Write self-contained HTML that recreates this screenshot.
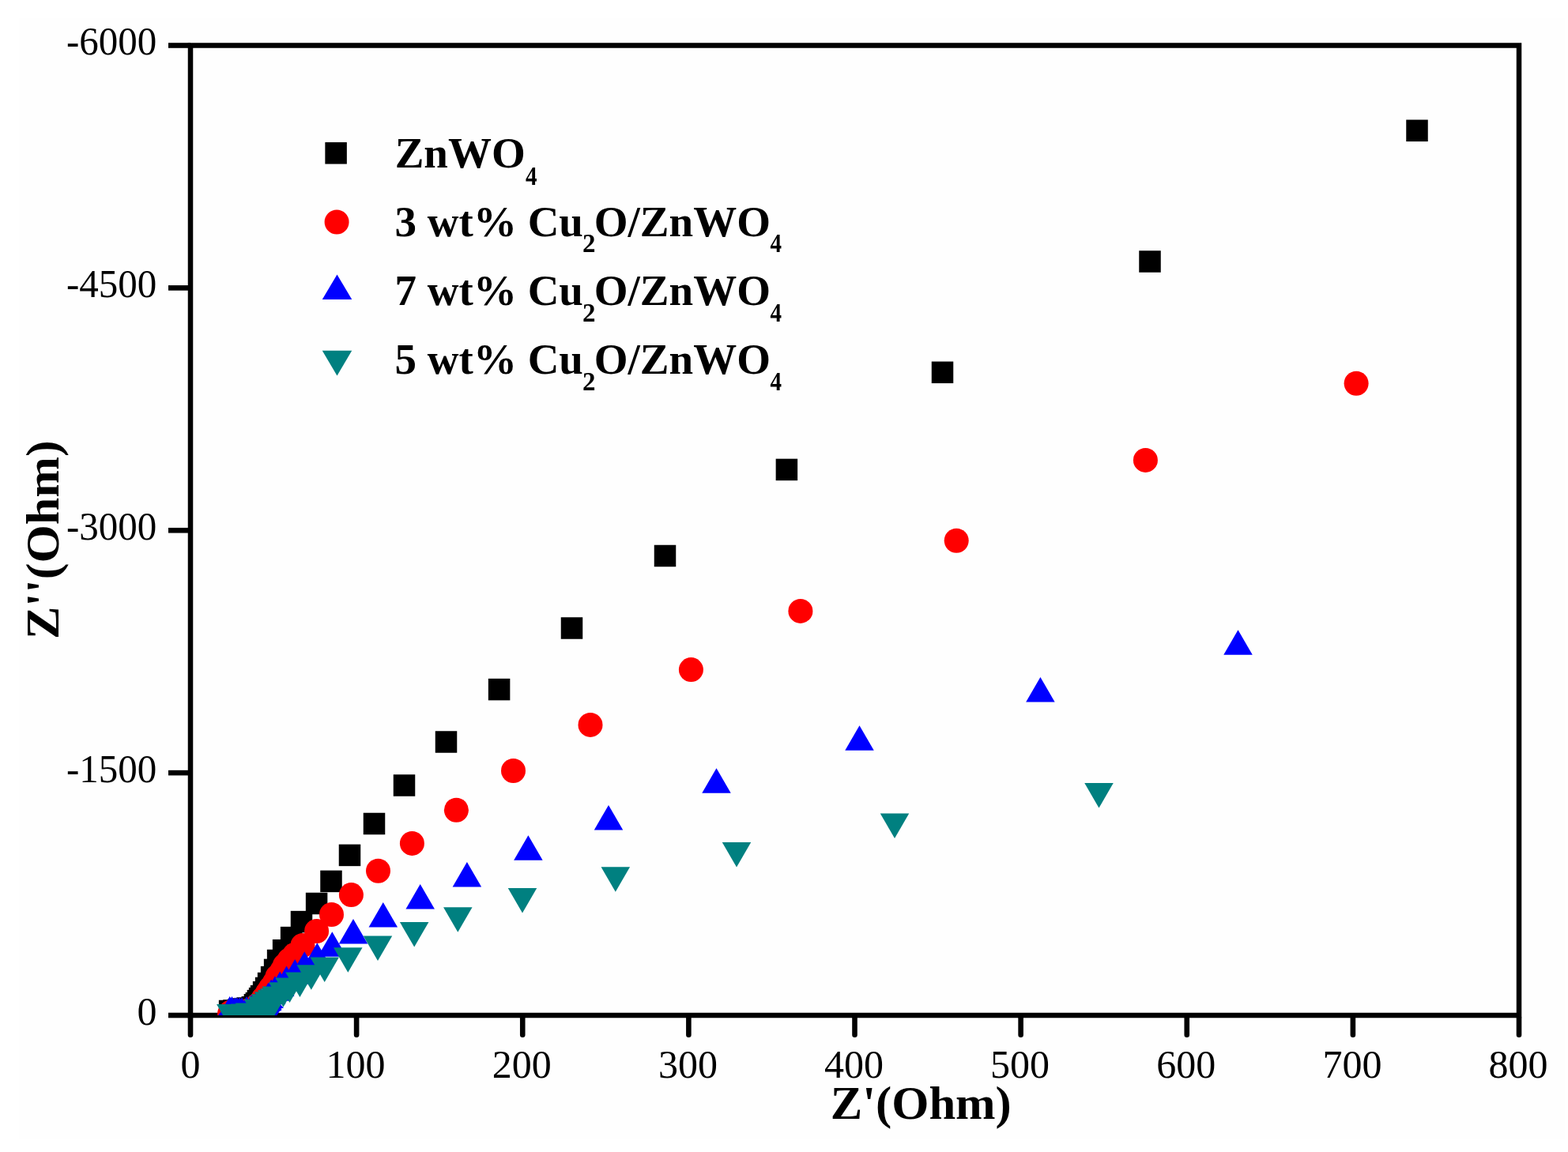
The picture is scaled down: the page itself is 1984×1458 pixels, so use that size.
<!DOCTYPE html>
<html><head><meta charset="utf-8"><title>Nyquist plot</title>
<style>
html,body{margin:0;padding:0;background:#fff;}
svg{display:block;}
text{font-family:"Liberation Serif","Times New Roman",serif;fill:#000;}
.b{font-weight:bold;}
</style></head><body>
<svg width="1984" height="1458" viewBox="0 0 1984 1458">
<rect x="0" y="0" width="1984" height="1458" fill="#ffffff"/>
<rect x="24" y="23" width="1956" height="1419" fill="#fefefe"/>
<defs><clipPath id="pa"><rect x="241" y="57.5" width="1681" height="1227.5"/></clipPath></defs>
<g stroke="#000" stroke-width="6.6" fill="none"><rect x="241" y="57.5" width="1681" height="1227.5" fill="none" stroke="#000" stroke-width="6.5"/><line x1="241" y1="1288.3" x2="241" y2="1309.7" stroke-linecap="round"/><line x1="451.12" y1="1288.3" x2="451.12" y2="1309.7" stroke-linecap="round"/><line x1="661.25" y1="1288.3" x2="661.25" y2="1309.7" stroke-linecap="round"/><line x1="871.38" y1="1288.3" x2="871.38" y2="1309.7" stroke-linecap="round"/><line x1="1081.5" y1="1288.3" x2="1081.5" y2="1309.7" stroke-linecap="round"/><line x1="1291.62" y1="1288.3" x2="1291.62" y2="1309.7" stroke-linecap="round"/><line x1="1501.75" y1="1288.3" x2="1501.75" y2="1309.7" stroke-linecap="round"/><line x1="1711.88" y1="1288.3" x2="1711.88" y2="1309.7" stroke-linecap="round"/><line x1="1922" y1="1288.3" x2="1922" y2="1309.7" stroke-linecap="round"/><line x1="213" y1="1285" x2="241" y2="1285"/><line x1="213" y1="978.12" x2="241" y2="978.12"/><line x1="213" y1="671.25" x2="241" y2="671.25"/><line x1="213" y1="364.38" x2="241" y2="364.38"/><line x1="213" y1="57.5" x2="241" y2="57.5"/></g>
<g clip-path="url(#pa)">
<g fill="#000000"><rect x="1779.25" y="151.55" width="27.5" height="27.5"/><rect x="1441.25" y="317.25" width="27.5" height="27.5"/><rect x="1178.75" y="457.55" width="27.5" height="27.5"/><rect x="981.65" y="580.65" width="27.5" height="27.5"/><rect x="827.75" y="689.75" width="27.5" height="27.5"/><rect x="709.75" y="781.25" width="27.5" height="27.5"/><rect x="617.85" y="858.85" width="27.5" height="27.5"/><rect x="550.75" y="925.25" width="27.5" height="27.5"/><rect x="497.75" y="980.25" width="27.5" height="27.5"/><rect x="459.75" y="1028.75" width="27.5" height="27.5"/><rect x="428.75" y="1068.65" width="27.5" height="27.5"/><rect x="405.25" y="1101.65" width="27.5" height="27.5"/><rect x="386.85" y="1129.75" width="27.5" height="27.5"/><rect x="367.75" y="1152.85" width="27.5" height="27.5"/><rect x="354.85" y="1172.85" width="27.5" height="27.5"/><rect x="344.85" y="1188.95" width="27.5" height="27.5"/><rect x="337.85" y="1201.75" width="27.5" height="27.5"/><rect x="333.85" y="1213.65" width="27.5" height="27.5"/><rect x="329.85" y="1222.85" width="27.5" height="27.5"/><rect x="325.85" y="1230.75" width="27.5" height="27.5"/><rect x="322.85" y="1236.75" width="27.5" height="27.5"/><rect x="319.85" y="1241.95" width="27.5" height="27.5"/><rect x="316.85" y="1246.85" width="27.5" height="27.5"/><rect x="314.85" y="1249.85" width="27.5" height="27.5"/><rect x="312.65" y="1252.85" width="27.5" height="27.5"/><rect x="310.65" y="1255.95" width="27.5" height="27.5"/><rect x="308.65" y="1257.95" width="27.5" height="27.5"/><rect x="305.55" y="1260.95" width="27.5" height="27.5"/><rect x="299.25" y="1262.25" width="27.5" height="27.5"/><rect x="294.25" y="1263.25" width="27.5" height="27.5"/><rect x="288.25" y="1264.25" width="27.5" height="27.5"/><rect x="282.25" y="1265.25" width="27.5" height="27.5"/><rect x="276.85" y="1265.75" width="27.5" height="27.5"/></g>
<g fill="#ff0000"><circle cx="1716.1" cy="485.2" r="15.5"/><circle cx="1449.4" cy="582.4" r="15.5"/><circle cx="1210.2" cy="684.2" r="15.5"/><circle cx="1012.9" cy="773.4" r="15.5"/><circle cx="874.4" cy="847.6" r="15.5"/><circle cx="747" cy="917.4" r="15.5"/><circle cx="649.5" cy="975.5" r="15.5"/><circle cx="577.4" cy="1025.3" r="15.5"/><circle cx="521.4" cy="1067.4" r="15.5"/><circle cx="478.5" cy="1102.3" r="15.5"/><circle cx="444.4" cy="1132.6" r="15.5"/><circle cx="419.5" cy="1157.5" r="15.5"/><circle cx="400.6" cy="1178.5" r="15.5"/><circle cx="383" cy="1196.5" r="15.5"/><circle cx="372.9" cy="1208.3" r="15.5"/><circle cx="366" cy="1215" r="15.5"/><circle cx="360.4" cy="1221.7" r="15.5"/><circle cx="357" cy="1228.5" r="15.5"/><circle cx="351" cy="1236" r="15.5"/><circle cx="347.5" cy="1243.5" r="15.5"/><circle cx="342.5" cy="1250.5" r="15.5"/><circle cx="338.5" cy="1256.5" r="15.5"/><circle cx="333" cy="1264" r="15.5"/><circle cx="326" cy="1272" r="15.5"/><circle cx="318" cy="1277.5" r="15.5"/><circle cx="310" cy="1280" r="15.5"/><circle cx="302" cy="1281" r="15.5"/><circle cx="296" cy="1281.5" r="15.5"/><circle cx="292" cy="1281" r="15.5"/><circle cx="290.6" cy="1283" r="15.5"/></g>
<g fill="#0000ff"><path d="M1566.5 797.2L1584.75 828.7H1548.25Z"/><path d="M1316.4 857.1L1334.65 888.6H1298.15Z"/><path d="M1087.5 918.2L1105.75 949.7H1069.25Z"/><path d="M906.5 972.2L924.75 1003.7H888.25Z"/><path d="M770 1018.9L788.25 1050.4H751.75Z"/><path d="M668.4 1057.3L686.65 1088.8H650.15Z"/><path d="M590.9 1091.1L609.15 1122.6H572.65Z"/><path d="M531.7 1119.1L549.95 1150.6H513.45Z"/><path d="M484.8 1142.1L503.05 1173.6H466.55Z"/><path d="M447 1163.1L465.25 1194.6H428.75Z"/><path d="M420.3 1179.2L438.55 1210.7H402.05Z"/><path d="M401.3 1193.2L419.55 1224.7H383.05Z"/><path d="M385.3 1204.2L403.55 1235.7H367.05Z"/><path d="M373.2 1214L391.45 1245.5H354.95Z"/><path d="M362.5 1222.4L380.75 1253.9H344.25Z"/><path d="M354.2 1229.5L372.45 1261H335.95Z"/><path d="M348 1235.3L366.25 1266.8H329.75Z"/><path d="M343.2 1239.4L361.45 1270.9H324.95Z"/><path d="M339.4 1243.8L357.65 1275.3H321.15Z"/><path d="M335 1248L353.25 1279.5H316.75Z"/><path d="M330 1252L348.25 1283.5H311.75Z"/><path d="M324 1256L342.25 1287.5H305.75Z"/><path d="M318 1259L336.25 1290.5H299.75Z"/><path d="M312 1261L330.25 1292.5H293.75Z"/><path d="M306 1262.2L324.25 1293.7H287.75Z"/><path d="M303 1262.2L321.25 1293.7H284.75Z"/><path d="M300 1262.2L318.25 1293.7H281.75Z"/><path d="M297.5 1262.2L315.75 1293.7H279.25Z"/><path d="M293.5 1261L311.75 1292.5H275.25Z"/><path d="M290.7 1261L308.95 1292.5H272.45Z"/><path d="M278 1282L296.25 1313.5H259.75Z"/></g>
<path fill="#0000ff" d="M356 1273L359 1275.5L355.5 1276.5L356.5 1278.3L353 1280.5L352.5 1282L350 1285.5H345L352 1275Z"/><g fill="#008080"><path d="M1372.25 991.1H1408.75L1390.5 1022.6Z"/><path d="M1113.75 1029.5H1150.25L1132 1061Z"/><path d="M913.75 1066.1H950.25L932 1097.6Z"/><path d="M760.55 1097.2H797.05L778.8 1128.7Z"/><path d="M642.75 1124H679.25L661 1155.5Z"/><path d="M561.05 1148.2H597.55L579.3 1179.7Z"/><path d="M505.95 1167.1H542.45L524.2 1198.6Z"/><path d="M459.75 1184.5H496.25L478 1216Z"/><path d="M422.05 1199.2H458.55L440.3 1230.7Z"/><path d="M392.45 1211.5H428.95L410.7 1243Z"/><path d="M375.55 1221.2H412.05L393.8 1252.7Z"/><path d="M361.15 1230.5H397.65L379.4 1262Z"/><path d="M348.25 1237.5H384.75L366.5 1269Z"/><path d="M340.15 1243.3H376.65L358.4 1274.8Z"/><path d="M331.55 1248.5H368.05L349.8 1280Z"/><path d="M329.25 1251H365.75L347.5 1282.5Z"/><path d="M328.25 1255H364.75L346.5 1286.5Z"/><path d="M324.75 1258.5H361.25L343 1290Z"/><path d="M325.95 1253H362.45L344.2 1284.5Z"/><path d="M321.95 1255.2H358.45L340.2 1286.7Z"/><path d="M317.95 1258.2H354.45L336.2 1289.7Z"/><path d="M314.35 1261.2H350.85L332.6 1292.7Z"/><path d="M308.75 1264.7H345.25L327 1296.2Z"/><path d="M297.75 1269.5H334.25L316 1301Z"/><path d="M291.75 1270.5H328.25L310 1302Z"/><path d="M285.75 1271H322.25L304 1302.5Z"/><path d="M279.75 1271H316.25L298 1302.5Z"/><path d="M274.05 1271H310.55L292.3 1302.5Z"/></g>
</g>
<text x="173.6" y="1296.6" font-size="50">0</text><text x="83.9" y="989.73" font-size="50" textLength="114.4" lengthAdjust="spacingAndGlyphs">-1500</text><text x="83.9" y="682.85" font-size="50" textLength="114.4" lengthAdjust="spacingAndGlyphs">-3000</text><text x="83.9" y="375.98" font-size="50" textLength="114.4" lengthAdjust="spacingAndGlyphs">-4500</text><text x="83.9" y="69.1" font-size="50" textLength="114.4" lengthAdjust="spacingAndGlyphs">-6000</text><text x="241" y="1364" font-size="50" text-anchor="middle">0</text><text x="450.12" y="1364" font-size="50" text-anchor="middle">100</text><text x="660.25" y="1364" font-size="50" text-anchor="middle">200</text><text x="870.38" y="1364" font-size="50" text-anchor="middle">300</text><text x="1080.5" y="1364" font-size="50" text-anchor="middle">400</text><text x="1290.62" y="1364" font-size="50" text-anchor="middle">500</text><text x="1500.75" y="1364" font-size="50" text-anchor="middle">600</text><text x="1710.88" y="1364" font-size="50" text-anchor="middle">700</text><text x="1921" y="1364" font-size="50" text-anchor="middle">800</text>
<text class="b" x="1050.8" y="1416" font-size="60" textLength="229" lengthAdjust="spacingAndGlyphs">Z&#39;(Ohm)</text>
<text class="b" transform="translate(74.2 809.1) rotate(-90)" x="0" y="0" font-size="60" textLength="251.8" lengthAdjust="spacingAndGlyphs">Z&#39;&#39;(Ohm)</text>
<rect x="411.35" y="180.05" width="27.5" height="27.5" fill="#000"/><circle cx="426.1" cy="281" r="15.5" fill="#ff0000"/><path d="M426.5 347.5L445.25 379H407.75Z" fill="#0000ff"/><path d="M407.75 443.8H445.25L426.5 475.6Z" fill="#008080"/>
<text class="b" x="499.7" y="212" font-size="55">ZnWO</text><text class="b" x="664.9" y="234" font-size="33" textLength="14.5" lengthAdjust="spacingAndGlyphs">4</text><text class="b" x="499.6" y="298.5" font-size="55">3 wt% Cu</text><text class="b" x="737" y="319.3" font-size="33">2</text><text class="b" x="751.8" y="298.5" font-size="55">O/ZnWO</text><text class="b" x="974.6" y="319.3" font-size="33" textLength="14.5" lengthAdjust="spacingAndGlyphs">4</text><text class="b" x="499.6" y="386.2" font-size="55">7 wt% Cu</text><text class="b" x="737" y="407" font-size="33">2</text><text class="b" x="751.8" y="386.2" font-size="55">O/ZnWO</text><text class="b" x="974.6" y="407" font-size="33" textLength="14.5" lengthAdjust="spacingAndGlyphs">4</text><text class="b" x="499.6" y="473.2" font-size="55">5 wt% Cu</text><text class="b" x="737" y="494" font-size="33">2</text><text class="b" x="751.8" y="473.2" font-size="55">O/ZnWO</text><text class="b" x="974.6" y="494" font-size="33" textLength="14.5" lengthAdjust="spacingAndGlyphs">4</text>
</svg>
</body></html>
